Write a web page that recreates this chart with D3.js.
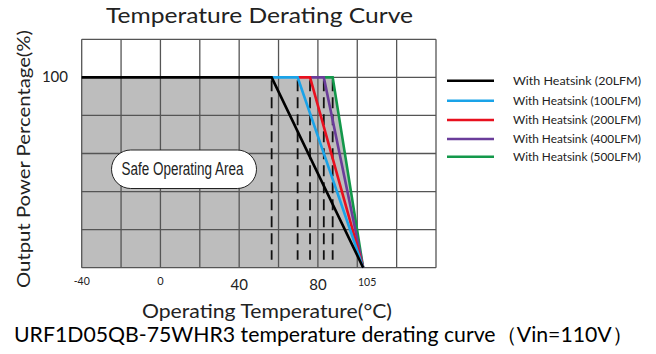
<!DOCTYPE html>
<html><head><meta charset="utf-8">
<script src="https://cdn.jsdelivr.net/npm/d3@7"></script>
<style>body{margin:0;background:#fff}svg{display:block}</style>
</head><body>
<svg id="c" width="656" height="354"></svg>
<script>
// ---- data ----
const seriesNames = ["With Heatsink (20LFM)","With Heatsink (100LFM)","With Heatsink (200LFM)","With Heatsink (400LFM)","With Heatsink (500LFM)"];
const seriesColors = ["#000000","#1aa3e8","#e8101e","#6a3d9a","#13984a"];
const kneeTemps = [56.5, 69.7, 76, 83, 87.5];   // full power up to this temperature (°C)
const startTemp = -40;
const endTemp = 103;                              // 0% power
const fullPower = 100;
const xTickValues = [-40, 0, 40, 80, 105];
const xTickLabels = ["-40","0","40","80","105"];
const yTickValues = [100];
const yTickLabels = ["100"];
const gridX = [-40,-20,0,20,40,60,80,100,120,140];
const gridY = [0,20,40,60,80,100,120];

// ---- layout ----
const svg = d3.select("#c");
const L = 81.7, R = 436, T = 39.3, B = 267.7;
const x = d3.scaleLinear().domain([-40,140]).range([L,R]);
const y = d3.scaleLinear().domain([0,120]).range([B,T]);

// grey safe area under outermost curve
const outer = kneeTemps.length-1;
svg.append("path")
  .attr("d", d3.line().x(d=>x(d[0])).y(d=>y(d[1]))([[startTemp,0],[startTemp,fullPower],[kneeTemps[outer],fullPower],[endTemp,0]]))
  .attr("fill","#bdbdbd");

// grid
svg.append("g").selectAll("line").data(gridX).join("line")
  .attr("x1",d=>x(d)).attr("x2",d=>x(d)).attr("y1",T).attr("y2",B)
  .attr("stroke","#555").attr("stroke-width",1.3);
svg.append("g").selectAll("line").data(gridY).join("line")
  .attr("y1",d=>y(d)).attr("y2",d=>y(d)).attr("x1",L).attr("x2",R)
  .attr("stroke","#555").attr("stroke-width",1.3);

// dashed verticals at knees
svg.append("g").selectAll("line").data(kneeTemps).join("line")
  .attr("x1",d=>x(d)).attr("x2",d=>x(d)).attr("y1",y(fullPower)+3).attr("y2",y(0)-8)
  .attr("stroke","#111").attr("stroke-width",1.8).attr("stroke-dasharray","11,6");

// safe operating area label
svg.append("rect").attr("x",111.5).attr("y",150).attr("width",145).attr("height",38.5)
  .attr("rx",19.25).attr("ry",19.25).attr("fill","#fff").attr("stroke","#222").attr("stroke-width",1);
svg.append("text").attr("x",182.5).attr("y",174.5).attr("text-anchor","middle")
  .attr("font-family","Liberation Sans Narrow, Liberation Sans, Arial").attr("font-size",17.5)
  .attr("textLength",122).attr("lengthAdjust","spacingAndGlyphs").attr("fill","#222")
  .text("Safe Operating Area");

// curves (draw from outermost to black so black on top)
const line = d3.line().x(d=>x(d[0])).y(d=>y(d[1]));
const order = d3.range(kneeTemps.length).reverse();
svg.append("g").selectAll("path").data(order).join("path")
  .attr("d", i=>line([[i===0?startTemp:kneeTemps[i-1],fullPower],[kneeTemps[i],fullPower],[endTemp,0]]))
  .attr("fill","none").attr("stroke",i=>seriesColors[i]).attr("stroke-width",2.6)
  .attr("stroke-linejoin","miter");

// axes labels
const font = "Lato, 'DejaVu Sans', sans-serif";
const tickSizes = [10.5,11,15,15,10.5];
const tickY = [285,285,290,290,286];
svg.append("g").selectAll("text").data(xTickValues).join("text")
  .attr("x",d=>x(d)).attr("y",(d,i)=>tickY[i]).attr("text-anchor","middle")
  .attr("font-family",font).attr("font-size",(d,i)=>tickSizes[i]).attr("fill","#222")
  .text((d,i)=>xTickLabels[i]);
svg.append("g").selectAll("text").data(yTickValues).join("text")
  .attr("x",68).attr("y",d=>y(d)+5).attr("text-anchor","end")
  .attr("font-family",font).attr("font-size",15).attr("fill","#222")
  .text((d,i)=>yTickLabels[i]);

// titles
svg.append("text").attr("x",106).attr("y",23).attr("font-family",font).attr("font-size",21)
  .attr("textLength",307).attr("lengthAdjust","spacingAndGlyphs").attr("fill","#222")
  .text("Temperature Derating Curve");
svg.append("text").attr("transform","translate(30,159) rotate(-90)").attr("text-anchor","middle")
  .attr("font-family",font).attr("font-size",18).attr("textLength",258).attr("lengthAdjust","spacingAndGlyphs")
  .attr("fill","#222").text("Output Power Percentage(%)");
svg.append("text").attr("x",142).attr("y",318).attr("font-family",font).attr("font-size",20)
  .attr("textLength",250).attr("lengthAdjust","spacingAndGlyphs").attr("fill","#222")
  .text("Operating Temperature(°C)");
svg.append("text").attr("x",14).attr("y",342).attr("font-family",font).attr("font-size",21)
  .attr("textLength",619).attr("lengthAdjust","spacingAndGlyphs").attr("fill","#000")
  .text("URF1D05QB-75WHR3 temperature derating curve（Vin=110V）");

// legend
const lg = svg.append("g");
const legY = [80.7,100.7,120,139,156.7];
seriesNames.forEach((n,i)=>{
  lg.append("line").attr("x1",447).attr("x2",494).attr("y1",legY[i]).attr("y2",legY[i])
    .attr("stroke",seriesColors[i]).attr("stroke-width",2.6);
  lg.append("text").attr("x",513).attr("y",legY[i]+4).attr("font-family",font).attr("font-size",11.5)
    .attr("textLength",128).attr("lengthAdjust","spacingAndGlyphs")
    .attr("fill","#222").text(n);
});
</script>
</body></html>
